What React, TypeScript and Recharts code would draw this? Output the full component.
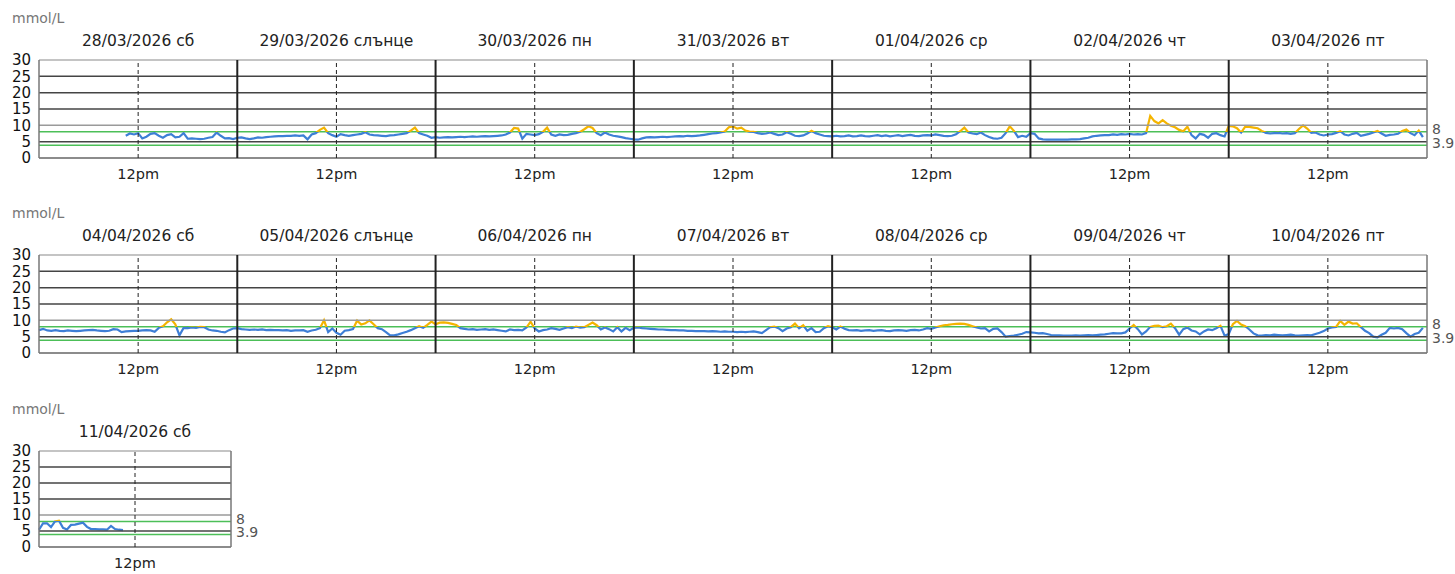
import React from 'react';
import { LineChart, Line, XAxis, YAxis, ReferenceLine } from 'recharts';

// glucose readings, mmol/L, one every 30 minutes
const ROW1_LABELS = ['28/03/2026 сб', '29/03/2026 слънце', '30/03/2026 пн', '31/03/2026 вт', '01/04/2026 ср', '02/04/2026 чт', '03/04/2026 пт'];
const ROW2_LABELS = ['04/04/2026 сб', '05/04/2026 слънце', '06/04/2026 пн', '07/04/2026 вт', '08/04/2026 ср', '09/04/2026 чт', '10/04/2026 пт'];
const ROW3_LABELS = ['11/04/2026 сб'];

const Y_TICKS = [0, 5, 10, 15, 20, 25, 30];
const GRID_Y = [5, 15, 20, 25];
const LOW = 3.9;
const HIGH = 8;
const FIRST_START_HOUR = 10.5; // sensor started mid-morning on the first day

const d0328 = [
  6.8, 7.5, 7.2, 7.6, 6.0, 6.5, 7.4,
  7.6, 6.8, 6.2, 7.0, 7.3, 6.3, 6.5, 7.6,
  5.9, 6.0, 5.9, 5.8, 5.9, 6.2, 6.4, 7.8,
  6.8, 6.0, 6.1, 5.8,
];
const d0329 = [
  6.2, 6.3, 6.0, 5.8, 6.0, 6.3, 6.2, 6.4,
  6.5, 6.6, 6.7, 6.7, 6.8, 6.8, 6.9, 6.8,
  6.9, 5.7, 7.2, 7.6, 8.6, 9.3, 7.6, 7.0,
  6.5, 7.3, 7.0, 6.8, 7.0, 7.2, 7.4, 7.9,
  7.2, 7.0, 6.9, 6.8, 6.7, 6.9, 7.0, 7.2,
  7.4, 7.6, 8.4, 9.3, 7.6, 7.2, 6.8, 6.2,
];
const d0330 = [
  6.4, 6.2, 6.3, 6.4, 6.3, 6.4, 6.5, 6.4,
  6.5, 6.6, 6.5, 6.6, 6.7, 6.6, 6.7, 6.8,
  6.9, 7.2, 7.8, 9.2, 9.0, 5.9, 7.4, 7.2,
  7.0, 7.3, 8.0, 9.3, 7.2, 6.8, 7.2, 7.0,
  7.1, 7.4, 7.6, 8.0, 8.8, 9.7, 9.2, 7.6,
  7.0, 7.8, 7.2, 6.8, 6.6, 6.4, 6.1, 5.9,
];
const d0331 = [
  5.7, 5.6, 6.0, 6.3, 6.4, 6.3, 6.4, 6.5,
  6.4, 6.5, 6.6, 6.7, 6.6, 6.8, 6.7, 6.8,
  6.9, 7.1, 7.3, 7.5, 7.6, 7.8, 8.1, 9.4,
  9.7, 9.0, 9.3, 8.4, 8.1, 8.0, 7.6, 7.4,
  7.5, 7.8, 7.4, 7.0, 7.2, 7.9, 7.4, 6.8,
  6.7, 6.9, 7.5, 8.3, 7.6, 7.2, 6.8, 6.7,
];
const d0401 = [
  6.6, 6.8, 6.6, 6.7, 6.9, 6.6, 6.7, 6.9,
  6.7, 6.6, 6.8, 7.0, 6.7, 6.9, 6.6, 6.8,
  7.0, 6.7, 6.9, 7.1, 6.8, 6.7, 6.9, 7.0,
  6.9, 7.2, 7.0, 6.8, 6.7, 6.8, 7.3, 8.2,
  9.3, 7.8, 7.5, 7.3, 7.8, 7.0, 6.4, 6.0,
  5.9, 6.2, 7.6, 9.7, 8.3, 6.4, 6.8, 6.5,
];
const d0402 = [
  7.6, 7.4, 6.0, 5.7, 5.6, 5.6, 5.6, 5.6,
  5.6, 5.6, 5.7, 5.7, 5.8, 6.0, 6.2, 6.6,
  6.8, 6.9, 7.0, 7.0, 7.2, 7.1, 7.3, 7.2,
  7.4, 7.2, 7.3, 7.2, 7.6, 12.9, 11.3, 10.6,
  11.6, 10.6, 9.9, 9.4, 8.6, 8.2, 9.6, 7.0,
  6.0, 7.4, 7.1, 6.2, 7.4, 7.6, 7.0, 6.6,
];
const d0403 = [
  9.8, 9.7, 9.1, 7.8, 9.6, 9.5, 9.3, 9.1,
  8.3, 7.7, 7.5, 7.6, 7.7, 7.5, 7.6, 7.4,
  7.6, 8.9, 10.0, 9.0, 7.7, 7.8, 7.2, 6.9,
  7.2, 7.3, 7.7, 8.2, 7.2, 6.9, 7.4, 7.7,
  6.8, 7.1, 7.4, 7.8, 8.3, 7.5, 6.8, 7.1,
  7.2, 7.4, 8.3, 8.7, 7.6, 7.0, 8.4, 6.4,
];
const d0404 = [
  7.0, 7.4, 6.9, 6.8, 7.0, 6.8, 6.7, 6.9,
  6.8, 6.7, 6.8, 6.9, 7.0, 7.1, 6.9, 6.8,
  6.7, 6.8, 7.3, 7.2, 6.4, 6.6, 6.7, 6.8,
  6.8, 6.9, 7.0, 6.9, 6.5, 7.7, 8.2, 9.4,
  10.3, 8.8, 5.4, 7.7, 7.6, 7.8, 7.7, 8.0,
  7.9, 7.2, 6.9, 6.8, 6.5, 6.3, 7.0, 7.5,
];
const d0405 = [
  7.6, 7.3, 7.2, 7.1, 7.2, 7.1, 7.2, 7.0,
  7.1, 7.0, 7.0, 6.9, 7.0, 6.8, 6.9, 6.9,
  7.0, 6.5, 6.9, 7.1, 7.6, 10.0, 6.4, 7.5,
  6.2, 5.6, 6.8, 7.0, 7.3, 9.9, 8.7, 9.1,
  10.0, 8.8, 7.6, 7.3, 6.4, 5.4, 5.4, 5.7,
  6.1, 6.5, 7.0, 7.6, 8.2, 7.7, 8.6, 9.6,
];
const d0406 = [
  8.8, 9.3, 9.4, 9.2, 8.9, 8.6, 7.6, 7.4,
  7.2, 7.3, 7.1, 7.2, 7.3, 7.1, 7.2, 7.0,
  6.8, 6.6, 7.2, 7.0, 7.1, 6.9, 7.8, 9.6,
  7.5, 6.6, 7.0, 7.2, 7.6, 7.4, 7.1, 7.5,
  7.9, 7.6, 8.1, 7.8, 7.9, 8.6, 9.3, 8.5,
  7.2, 7.8, 7.3, 6.6, 7.9, 6.6, 7.7, 7.0,
];
const d0407 = [
  7.7, 7.8, 7.6, 7.5, 7.4, 7.3, 7.2, 7.2,
  7.1, 7.0, 7.0, 6.9, 6.9, 6.8, 6.8, 6.7,
  6.7, 6.7, 6.6, 6.7, 6.6, 6.5, 6.6, 6.5,
  6.5, 6.4, 6.5, 6.4, 6.5, 6.6, 6.4, 6.1,
  7.0, 7.9, 8.1, 7.6, 6.7, 7.5, 7.9, 9.0,
  7.6, 8.5, 6.8, 7.6, 6.4, 6.5, 7.6, 8.2,
];
const d0408 = [
  7.9, 7.2, 8.1, 7.4, 7.0, 6.9, 7.0, 6.8,
  6.9, 7.0, 6.8, 6.9, 7.0, 6.8, 6.7, 6.9,
  7.0, 6.9, 6.8, 7.0, 7.1, 6.9, 7.2, 7.6,
  7.4, 7.8, 8.2, 8.5, 8.6, 8.8, 8.9, 9.0,
  8.9, 8.6, 8.2, 7.8, 7.5, 7.6, 6.6, 7.4,
  7.5, 6.4, 5.0, 5.2, 5.3, 5.6, 5.9, 6.4,
];
const d0409 = [
  6.3, 6.2, 6.0, 6.1, 5.8, 5.5, 5.4, 5.4,
  5.3, 5.3, 5.3, 5.4, 5.3, 5.4, 5.5, 5.4,
  5.5, 5.6, 5.7, 5.9, 6.1, 6.0, 6.0, 6.3,
  7.5, 8.6, 7.3, 5.7, 6.6, 8.0, 8.3, 8.4,
  7.9, 8.2, 9.0, 7.6, 5.6, 7.3, 7.8, 6.9,
  6.6, 5.7, 6.6, 7.2, 7.0, 7.6, 8.3, 5.3,
];
const d0410 = [
  5.8, 8.8, 9.8, 8.7, 8.2, 7.2, 6.0, 5.4,
  5.3, 5.5, 5.4, 5.6, 5.5, 5.4, 5.5, 5.6,
  5.4, 5.3, 5.4, 5.5, 5.4, 5.8, 6.2, 6.7,
  7.5, 7.8, 8.0, 9.8, 8.6, 9.6, 9.0, 9.1,
  7.9, 6.8, 6.1, 5.0, 4.8, 5.6, 6.2, 7.7,
  7.5, 7.7, 7.3, 6.1, 5.0, 5.8, 6.2, 7.7,
];
const d0411 = [
  5.4, 7.4, 7.4, 6.2, 8.0, 8.2, 6.0, 5.5,
  6.9, 7.0, 7.3, 7.6, 6.3, 5.6, 5.6, 5.5,
  5.5, 5.4, 6.6, 5.6, 5.4, 5.3,
];

type Pt = { t: number; v: number };

function buildRow(days: number[][], firstStart = 0): Pt[] {
  const pts: Pt[] = [];
  days.forEach((vals, d) => {
    const start = d === 0 ? firstStart : 0;
    vals.forEach((v, i) => pts.push({ t: d * 24 + start + i * 0.5, v }));
  });
  return pts;
}

const row1 = buildRow([d0328, d0329, d0330, d0331, d0401, d0402, d0403], FIRST_START_HOUR);
const row2 = buildRow([d0404, d0405, d0406, d0407, d0408, d0409, d0410]);
const row3 = buildRow([d0411]);

const FONT = "'DejaVu Sans', sans-serif";
const PLOT_LEFT = 39;
const PLOT_TOP = 60;
const BLUE = '#3d7fd6';
const YELLOW = '#f4b400';
const GREEN = '#4cbf58';

interface RowProps {
  id: string;
  top: number;
  labels: string[];
  data: Pt[];
  plotWidth: number;
  plotHeight: number;
  chartHeight: number;
}

function DayRow({ id, top, labels, data, plotWidth, plotHeight, chartHeight }: RowProps) {
  const span = labels.length * 24;
  const chartWidth = PLOT_LEFT + plotWidth + 29;
  const axisH = 25;
  const plotBottom = PLOT_TOP + plotHeight;
  const split = (30 - HIGH) / 30;
  const noons = labels.map((_, i) => i * 24 + 12);
  const dayEdges = labels.slice(1).map((_, i) => (i + 1) * 24);

  const renderTick = (props: any) => {
    const { x, payload } = props;
    const idx = Math.floor(payload.value / 24);
    return (
      <g>
        <text x={x} y={plotBottom + 21} textAnchor="middle" fontSize={14.5} fill="#222" fontFamily={FONT}>
          12pm
        </text>
        <text x={x} y={PLOT_TOP - 14} textAnchor="middle" fontSize={15.5} fill="#222" fontFamily={FONT}>
          {labels[idx]}
        </text>
      </g>
    );
  };

  return (
    <div style={{ position: 'absolute', left: 0, top, width: chartWidth, height: chartHeight }}>
      <div
        style={{
          position: 'absolute',
          left: 12,
          top: 10.5,
          fontSize: 14,
          lineHeight: '14px',
          color: '#777',
          fontFamily: FONT,
        }}
      >
        mmol/L
      </div>
      <LineChart
        width={chartWidth}
        height={chartHeight}
        data={data}
        margin={{ top: PLOT_TOP, right: 29, bottom: chartHeight - PLOT_TOP - plotHeight - axisH, left: 0 }}
      >
        <defs>
          <linearGradient id={`glu-${id}`} gradientUnits="userSpaceOnUse" x1={0} y1={PLOT_TOP} x2={0} y2={plotBottom}>
            <stop offset={0} stopColor={YELLOW} />
            <stop offset={split} stopColor={YELLOW} />
            <stop offset={split} stopColor={BLUE} />
            <stop offset={1} stopColor={BLUE} />
          </linearGradient>
        </defs>
        <XAxis
          dataKey="t"
          type="number"
          domain={[0, span]}
          ticks={noons}
          interval={0}
          axisLine={false}
          tickLine={false}
          height={axisH}
          tick={renderTick}
        />
        <YAxis
          type="number"
          domain={[0, 30]}
          ticks={Y_TICKS}
          interval={0}
          width={PLOT_LEFT}
          axisLine={false}
          tickLine={false}
          tick={{ fontSize: 15, fill: '#111', fontFamily: FONT }}
        />
        <ReferenceLine
          y={HIGH}
          stroke={GREEN}
          strokeWidth={1.5}
          label={{ value: '8', position: 'right', fill: '#555', fontSize: 14, fontFamily: FONT, dy: -2.5 }}
        />
        <ReferenceLine
          y={LOW}
          stroke={GREEN}
          strokeWidth={1.5}
          label={{ value: '3.9', position: 'right', fill: '#555', fontSize: 14, fontFamily: FONT, dy: -2 }}
        />
        <Line
          type="linear"
          dataKey="v"
          stroke={`url(#glu-${id})`}
          strokeWidth={2.2}
          dot={false}
          activeDot={false}
          isAnimationActive={false}
        />
        {GRID_Y.map((y) => (
          <ReferenceLine key={`g${y}`} y={y} stroke="#444" strokeWidth={1.5} />
        ))}
        <ReferenceLine y={10} stroke="#9a9a9a" strokeWidth={1.5} />
        <ReferenceLine y={30} stroke="#8a8a8a" strokeWidth={1.2} />
        <ReferenceLine y={0} stroke="#666" strokeWidth={1.5} />
        <ReferenceLine x={0} stroke="#777" strokeWidth={1.5} />
        <ReferenceLine x={span} stroke="#777" strokeWidth={1.5} />
        {noons.map((x) => (
          <ReferenceLine key={`n${x}`} x={x} stroke="#222" strokeWidth={1} strokeDasharray="4 3" />
        ))}
        {dayEdges.map((x) => (
          <ReferenceLine key={`d${x}`} x={x} stroke="#222" strokeWidth={2} />
        ))}
      </LineChart>
    </div>
  );
}

export default function App() {
  return (
    <div style={{ position: 'absolute', left: 0, top: 0, width: 1455, height: 574, overflow: 'hidden', background: '#fff' }}>
      <DayRow id="r1" top={0} labels={ROW1_LABELS} data={row1} plotWidth={1388} plotHeight={98} chartHeight={195} />
      <DayRow id="r2" top={195} labels={ROW2_LABELS} data={row2} plotWidth={1388} plotHeight={98} chartHeight={195} />
      <DayRow id="r3" top={391} labels={ROW3_LABELS} data={row3} plotWidth={192} plotHeight={96} chartHeight={183} />
    </div>
  );
}
